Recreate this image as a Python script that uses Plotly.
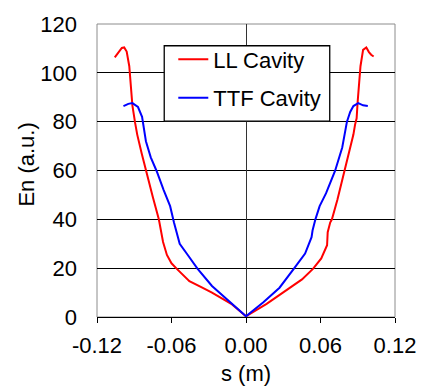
import plotly.graph_objects as go

# LL Cavity (red)
ll_s = [-0.1057, -0.1026, -0.1000, -0.0981, -0.0961, -0.0940, -0.0930, -0.0915,
        -0.0893, -0.0876, -0.0840, -0.0806, -0.0750, -0.0702, -0.0681, -0.0668,
        -0.0637, -0.0600, -0.0559, -0.0456, -0.0360, -0.0274, -0.0119, 0.0,
        0.0166, 0.0321, 0.0451, 0.0541, 0.0606, 0.0653, 0.0658, 0.0678, 0.0692,
        0.0736, 0.0795, 0.0839, 0.0865, 0.0878, 0.0891, 0.0899, 0.0909, 0.0922,
        0.0943, 0.0969, 0.0990, 0.1008, 0.1028]
ll_e = [106.3, 108.7, 110.2, 110.4, 108.7, 102.7, 94.7, 86.7,
        79.5, 74.7, 67.0, 59.8, 49.0, 40.0, 35.0, 30.7,
        25.4, 22.0, 19.8, 14.7, 12.2, 10.0, 5.4, 0.3,
        5.4, 10.7, 15.4, 19.8, 24.0, 29.4, 34.7, 38.7, 40.0,
        48.0, 59.8, 69.4, 74.7, 78.7, 81.4, 88.0, 94.7, 102.7,
        109.4, 110.4, 108.5, 107.4, 106.7]

# TTF Cavity (blue)
ttf_s = [-0.0987, -0.0948, -0.0915, -0.0870, -0.0837, -0.0822, -0.0806, -0.0767,
         -0.0720, -0.0663, -0.0611, -0.0580, -0.0562, -0.0534, -0.0469, -0.0391,
         -0.0274, -0.0145, 0.0,
         0.0140, 0.0270, 0.0386, 0.0476, 0.0528, 0.0536, 0.0559, 0.0593, 0.0645,
         0.0717, 0.0775, 0.0795, 0.0813, 0.0839, 0.0865, 0.0904, 0.0943, 0.0981]
ttf_e = [86.4, 87.3, 87.6, 86.0, 82.0, 77.5, 72.0, 65.4,
         59.8, 52.0, 45.4, 38.7, 35.0, 30.0, 25.4, 19.8,
         12.7, 6.7, 0.3,
         6.0, 12.0, 19.8, 26.0, 32.7, 35.4, 40.0, 45.4, 50.7,
         59.8, 69.4, 74.7, 80.0, 84.0, 86.4, 87.6, 86.7, 86.4]

x_ticks = [-0.12, -0.06, 0.0, 0.06, 0.12]
x_labels = ["-0.12", "-0.06", "0.00", "0.06", "0.12"]
y_ticks = [0, 20, 40, 60, 80, 100, 120]

FONT = "Liberation Sans, Arial, sans-serif"

fig = go.Figure()
fig.add_trace(go.Scatter(x=ll_s, y=ll_e, mode="lines", name="LL Cavity",
                         legendgroup="a",
                         line=dict(color="#FF0000", width=2)))
fig.add_trace(go.Scatter(x=ttf_s, y=ttf_e, mode="lines", name="TTF Cavity",
                         legendgroup="b",
                         line=dict(color="#0000FF", width=2)))

# plot-area frame (gray) and legend box
fig.add_shape(type="rect", xref="paper", yref="paper", x0=0, x1=1, y0=0, y1=1,
              line=dict(color="#8c8c8c", width=1), layer="below")
fig.add_shape(type="rect", xref="paper", yref="paper",
              x0=0.2256, x1=0.781, y0=0.6684, y1=0.9258,
              line=dict(color="black", width=1.3), fillcolor="white", layer="above")

fig.update_layout(
    width=428, height=386,
    margin=dict(l=97, r=22, t=16, b=69),
    paper_bgcolor="white", plot_bgcolor="white",
    font=dict(family=FONT, size=22, color="black"),
    showlegend=True,
    legend=dict(x=0.256, y=0.951, xanchor="left", yanchor="top",
                bgcolor="rgba(0,0,0,0)", borderwidth=0,
                font=dict(size=22), tracegroupgap=7,
                traceorder="grouped"),
    xaxis=dict(range=[-0.12, 0.12], tickvals=x_ticks, ticktext=x_labels,
               ticks="outside", ticklen=5, tickcolor="black", tickwidth=1,
               showline=True, linecolor="black", linewidth=1,
               showgrid=False, zeroline=True, zerolinecolor="#333333",
               zerolinewidth=1, tickfont=dict(size=22), ticklabelstandoff=4),
    yaxis=dict(range=[0, 120], tickvals=y_ticks, ticks="",
               showline=False, showgrid=True, gridcolor="black", gridwidth=1,
               zeroline=False, tickfont=dict(size=22), ticklabelstandoff=19),
    annotations=[
        dict(text="s (m)", xref="paper", yref="paper", x=0.5, y=-0.193,
             xanchor="center", yanchor="middle", showarrow=False,
             font=dict(size=22)),
        dict(text="En (a.u.)", xref="paper", yref="paper", x=-0.235, y=0.52,
             xanchor="center", yanchor="middle", showarrow=False, textangle=-90,
             font=dict(size=22)),
    ],
)

fig.write_html("out.html")
